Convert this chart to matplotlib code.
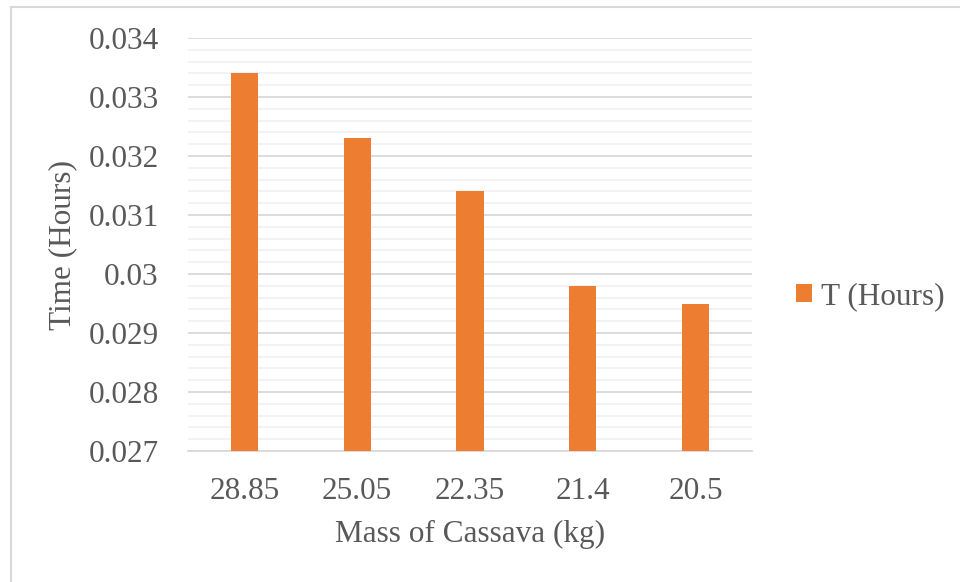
import numpy as np
import matplotlib.pyplot as plt
from matplotlib.lines import Line2D

plt.rcParams['font.family'] = ['Liberation Serif', 'DejaVu Serif']

masses = ["28.85", "25.05", "22.35", "21.4", "20.5"]
hours = [0.0334, 0.0323, 0.0314, 0.0298, 0.0295]
yticks = [0.027, 0.028, 0.029, 0.03, 0.031, 0.032, 0.033, 0.034]
ytick_labels = ["0.027", "0.028", "0.029", "0.03", "0.031", "0.032", "0.033", "0.034"]

bar_color = "#ED7D31"
text_color = "#595959"

fig = plt.figure(figsize=(9.6, 5.82), dpi=100)
ax = fig.add_axes([0.1958, 0.225, 0.5875, 0.7096])

x = np.arange(len(masses))
ax.bar(x, hours, width=0.24, color=bar_color, zorder=3, label="T (Hours)")

ax.set_xlim(-0.5, len(masses) - 0.5)
ax.set_ylim(0.027, 0.034)
ax.set_yticks(yticks)
ax.set_yticklabels(ytick_labels)
ax.set_yticks(np.arange(0.027, 0.0340001, 0.0002), minor=True)
ax.set_xticks(x)
ax.set_xticklabels(masses)

ax.grid(axis="y", which="major", color="#d9d9d9", linewidth=1.3, zorder=1)
ax.grid(axis="y", which="minor", color="#f2f2f2", linewidth=1.3, zorder=1)
ax.tick_params(axis="both", which="both", length=0, labelsize=22.5, colors=text_color)
ax.tick_params(axis="y", pad=21)
ax.tick_params(axis="x", pad=19)

for side in ["top", "right", "left"]:
    ax.spines[side].set_visible(False)
ax.spines["bottom"].set_color("#d9d9d9")
ax.spines["bottom"].set_linewidth(1.3)

ax.set_xlabel("Mass of Cassava (kg)", fontsize=22.5, color=text_color, labelpad=10)
ax.set_ylabel("Time (Hours)", fontsize=22.5, color=text_color, labelpad=8)

leg = fig.legend(loc="center left", bbox_to_anchor=(0.8, 0.49), frameon=False,
                 fontsize=22.5, handlelength=0.5, handleheight=0.5, handletextpad=0.3,
                 labelcolor=text_color)

# chart frame, left and top edges
fig.add_artist(Line2D([0.0115, 0.0115], [0, 0.988], color="#d9d9d9", lw=1.5))
fig.add_artist(Line2D([0.0115, 1.0], [0.988, 0.988], color="#d9d9d9", lw=1.5))

fig.savefig("out.png", dpi=100)
